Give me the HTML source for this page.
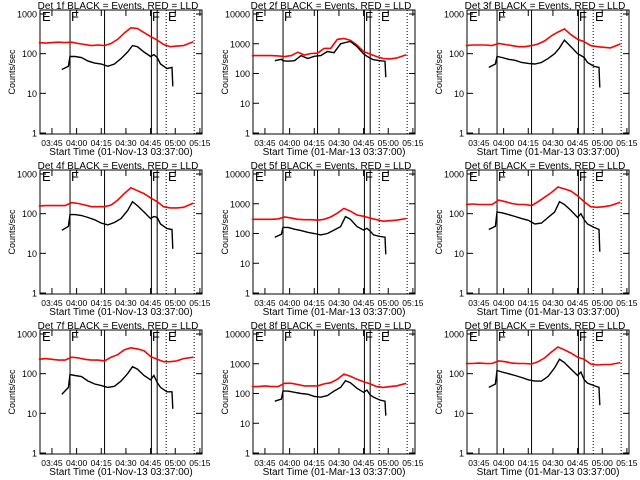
<!DOCTYPE html>
<html><head><meta charset="utf-8"><style>
html,body{margin:0;padding:0;background:#fff}
svg{display:block}
text{font-family:"Liberation Sans",sans-serif;fill:#000}
</style></head><body>
<svg id="chart" width="640" height="480" viewBox="0 0 640 480" xmlns="http://www.w3.org/2000/svg"></svg>
<script>
// Shared time grids (minutes after 03:37:00)
const redTimes = [0,4,8,12,16,20,24,28,32,36,40,44,48,52,56,60,64,68,72,76,80,84,88,94];
const blackTimes = [14,18,19,22,26,30,34,38,42,46,50,54,57,60,64,68,70,72,74,78,81,81.5];
const xTickLabels = ["03:45","04:00","04:15","04:30","04:45","05:00","05:15"];
const xTickMinutes = [8,23,38,53,68,83,98];
const solidLines = [19,40,68.5,72];
const dottedLines = [77.5,94.5];
const detNames = ["1f","2f","3f","4f","5f","6f","7f","8f","9f"];
const detDecades = [3,4,3,3,4,3,3,4,3];
const detDates = ["01-Nov-13","01-Mar-13","01-Mar-13","01-Nov-13","01-Mar-13","01-Mar-13","01-Nov-13","01-Mar-13","01-Mar-13"];
const red1 = [190,185,190,195,190,195,180,170,160,165,160,180,230,330,450,430,340,270,220,170,150,155,160,200];
const blk1 = [40,48,85,85,80,65,58,55,48,55,75,110,160,150,110,85,95,80,55,42,45,15];
const red2 = [400,400,400,400,390,370,400,520,420,470,480,700,700,1400,1500,1300,900,550,450,370,320,310,330,430];
const blk2 = [270,300,270,260,270,400,320,380,400,550,500,1000,1100,1200,800,460,380,330,290,270,260,75];
const red3 = [160,165,165,165,160,180,170,160,150,150,160,175,210,280,350,420,300,230,200,160,150,145,140,175];
const blk3 = [45,55,85,80,72,68,60,57,55,60,75,100,140,220,150,100,90,80,60,48,45,14];
const red4 = [155,160,160,160,160,190,180,165,150,150,150,165,220,320,450,380,320,250,200,150,140,140,145,185];
const blk4 = [38,48,95,95,90,80,70,58,52,60,75,120,200,160,110,75,85,80,55,42,40,13];
const red5 = [300,300,300,300,310,360,330,300,290,290,280,300,360,480,700,560,420,380,330,290,260,270,280,320];
const blk5 = [75,95,160,160,140,125,110,100,90,100,130,170,370,300,170,130,150,120,90,80,75,20];
const red6 = [170,175,170,170,170,220,200,180,170,170,160,200,260,340,470,420,370,280,200,150,145,150,160,195];
const blk6 = [40,48,110,105,95,85,75,68,55,58,80,110,200,170,120,80,100,70,55,45,40,11];
const red7 = [230,240,230,220,220,260,250,230,220,220,210,260,300,400,450,420,380,270,230,200,200,210,240,260];
const blk7 = [30,45,95,90,85,65,55,50,45,48,65,100,150,130,90,70,90,60,45,35,35,13];
const red8 = [170,170,180,170,170,220,220,200,180,180,180,210,230,300,450,380,300,250,210,170,160,170,180,220];
const blk8 = [55,65,120,120,110,100,95,80,75,85,120,160,270,230,150,110,130,90,75,60,55,18];
const red9 = [180,180,185,180,180,210,200,185,180,180,175,200,250,350,470,400,330,260,230,175,165,170,170,190];
const blk9 = [45,55,120,110,100,90,80,70,65,65,85,140,230,190,130,90,110,70,58,50,45,16];
const redSeries = [red1,red2,red3,red4,red5,red6,red7,red8,red9];
const blackSeries = [blk1,blk2,blk3,blk4,blk5,blk6,blk7,blk8,blk9];

const NS = "http://www.w3.org/2000/svg";
const svg = document.getElementById("chart");
function mk(tag, attrs, parent){
  const e = document.createElementNS(NS, tag);
  for (const k in attrs) e.setAttribute(k, attrs[k]);
  parent.appendChild(e);
  return e;
}
const colX = [0,213,427], rowY = [0,160,320];
const BX0 = 40, BX1 = 202, BY0 = 10, BY1 = 134, Y1 = 133, YTOP = 14;

for (let p = 0; p < 9; p++) {
  const ox = colX[p % 3], oy = rowY[Math.floor(p / 3)];
  const dec = detDecades[p];
  const g = mk("g", {transform: `translate(${ox},${oy})`}, svg);
  
  
  const xs = t => 38.8 + t * 1.644;
  const ys = v => Y1 - Math.log10(v) * (Y1 - YTOP) / dec;

  const title = mk("text", {x: 118, y: 9, "font-size": 10, "text-anchor": "middle"}, g);
  title.textContent = `Det ${detNames[p]} BLACK = Events, RED = LLD`;
  
  

  const box = mk("rect", {x: BX0, y: BY0, width: BX1 - BX0, height: BY1 - BY0, fill: "none", stroke: "#000", "stroke-width": 1}, g);
  
  

  for (let d = 0; d <= dec; d++) {
    const y = ys(Math.pow(10, d));
    mk("line", {x1: BX0, x2: BX0 + 6, y1: y, y2: y, stroke: "#000"}, g);
    mk("line", {x1: BX1 - 6, x2: BX1, y1: y, y2: y, stroke: "#000"}, g);
    const lab = mk("text", {x: 37, y: y + 3.5, "font-size": 9, "text-anchor": "end"}, g);
    lab.textContent = String(Math.pow(10, d));
    
    
  }
  xTickMinutes.forEach((t, i) => {
    const x = xs(t);
    mk("line", {x1: x, x2: x, y1: BY1, y2: BY1 - 6, stroke: "#000"}, g);
    mk("line", {x1: x, x2: x, y1: BY0, y2: BY0 + 6, stroke: "#000"}, g);
    const lab = mk("text", {x: x, y: 146, "font-size": 8.5, "text-anchor": "middle"}, g);
    lab.textContent = xTickLabels[i];
    
    
  });
  const xt = mk("text", {x: 121, y: 155, "font-size": 10, "text-anchor": "middle"}, g);
  xt.textContent = `Start Time (${detDates[p]} 03:37:00)`;
  
  
  const yt = mk("text", {x: 15, y: 72, "font-size": 9, "text-anchor": "middle", transform: "rotate(-90 15 72)"}, g);
  yt.textContent = "Counts/sec";
  
  

  solidLines.forEach(t => {
    const l = mk("line", {x1: xs(t), x2: xs(t), y1: BY0, y2: BY1, stroke: "#000", "stroke-width": 1}, g);
    
    
  });
  dottedLines.forEach(t => {
    const l = mk("line", {x1: xs(t), x2: xs(t), y1: BY0, y2: BY1, stroke: "#000", "stroke-width": 1, "stroke-dasharray": "1,2"}, g);
    
    
  });
  [["E",42],["F",71],["F",152],["E",168]].forEach(([s, x]) => {
    const t = mk("text", {x: x, y: 21, "font-size": 13}, g);
    t.textContent = s;
    
    
  });

  const rp = redSeries[p].map((v, i) => `${xs(redTimes[i]).toFixed(1)},${ys(v).toFixed(1)}`).join(" ");
  const rl = mk("polyline", {points: rp, fill: "none", stroke: "#ff0000", "stroke-width": 1.6}, g);
  
  
  const bp = blackSeries[p].map((v, i) => `${xs(blackTimes[i]).toFixed(1)},${ys(v).toFixed(1)}`).join(" ");
  const bl = mk("polyline", {points: bp, fill: "none", stroke: "#000", "stroke-width": 1.4}, g);
  
  
}
</script>
</body></html>
